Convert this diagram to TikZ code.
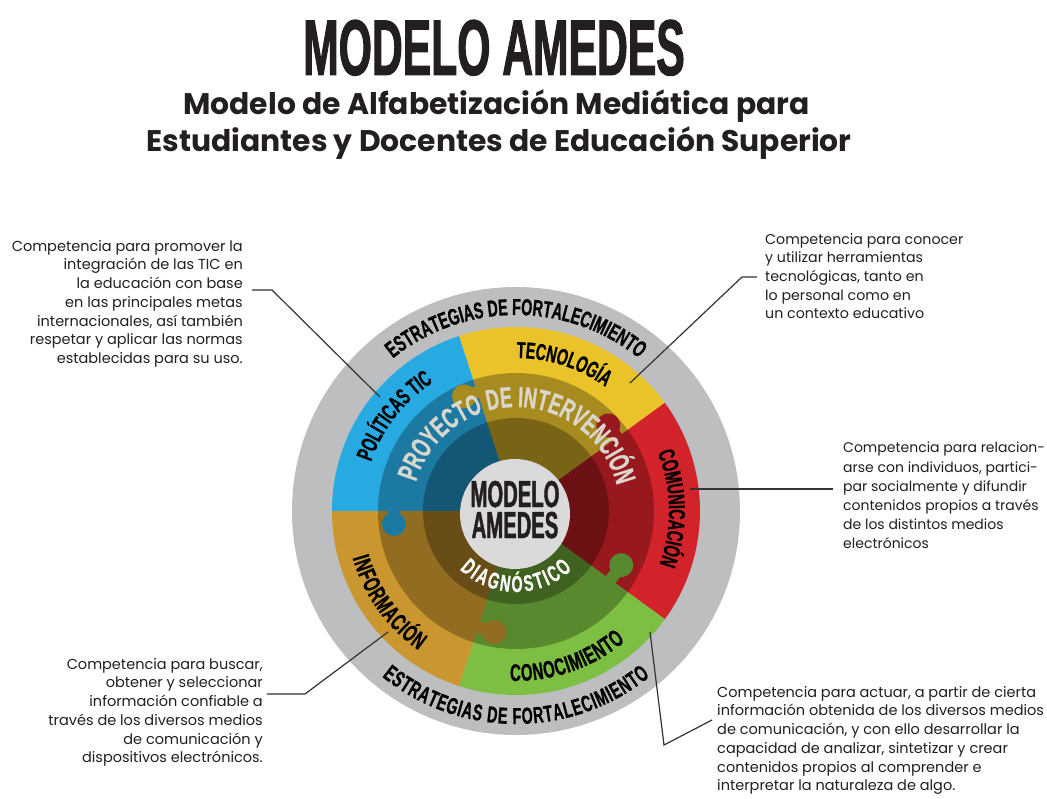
\documentclass[tikz,border=0pt]{standalone}
\usepackage{fontspec}
\setmainfont{Poppins}
\newfontfamily\cond{Liberation Sans}[FakeStretch=0.54, FakeBold=1.2]
\newfontfamily\condw{Liberation Sans}[FakeStretch=0.62, FakeBold=0.8]
\usetikzlibrary{decorations.text}
\definecolor{cBlue}{HTML}{27A9E1}
\definecolor{cYel}{HTML}{EAC22A}
\definecolor{cRed}{HTML}{D2232A}
\definecolor{cGreen}{HTML}{7CBF42}
\definecolor{cOra}{HTML}{C9962F}
\definecolor{cGray}{HTML}{BDBEC0}
\definecolor{cCenter}{HTML}{DADADB}
\definecolor{ink}{HTML}{231F20}
\definecolor{proj}{HTML}{DAD6CC}
\definecolor{lineink}{HTML}{333333}
\newcommand\rf{\condw\bfseries\fontsize{23}{23}\selectfont}
\newcommand\rfb{\condw\bfseries\fontsize{24}{24}\selectfont}
\newcommand\pf{\condw\bfseries\fontsize{29}{29}\selectfont\color{proj}}
\newcommand\df{\condw\bfseries\fontsize{23}{23}\selectfont\color{white}}
\newcommand\pzknob[4]{%
  \begin{scope}[rotate=#1]
    \fill[#4] (#2,#3) circle[radius=12];
    \fill[#4] (#2-6,0) rectangle (#2+6,#3);
  \end{scope}}
\tikzset{
  desc/.style={font=\fontsize{14.5}{18.7}\selectfont, text=ink, inner sep=0pt},
  conn/.style={draw=lineink, line width=1.2pt},
  seg/.style={decorate, decoration={text along path, text align=center, text={#1}}},
  segfit/.style={decorate, decoration={text along path, text align={fit to path}, text={#1}}}
}
\begin{document}
\begin{tikzpicture}[x=1pt,y=1pt]
\useasboundingbox (-516,-287) rectangle (531,511);
\fill[white] (-516,-287) rectangle (531,511);

% titles
\node[anchor=base, font=\cond\bfseries\fontsize{79}{79}\selectfont, text=ink, inner sep=0pt] (title) at (-22,436) {MODELO AMEDES};
\node[anchor=base, font=\bfseries\fontsize{29.8}{29.8}\selectfont, text=ink, inner sep=0pt] (sub1) at (-19.5,396) {Modelo de Alfabetización Mediática para};
\node[anchor=base, font=\bfseries\fontsize{29.8}{29.8}\selectfont, text=ink, inner sep=0pt] (sub2) at (-17,359) {Estudiantes y Docentes de Educación Superior};

% rings
\fill[cGray] (0,0) circle[radius=224];
\fill[cBlue] (0,0) -- (180:184) arc[start angle=180, end angle=108, radius=184] -- cycle;
\fill[cYel] (0,0) -- (108:184) arc[start angle=108, end angle=36, radius=184] -- cycle;
\fill[cRed] (0,0) -- (36:184) arc[start angle=36, end angle=-36, radius=184] -- cycle;
\fill[cGreen] (0,0) -- (-36:184) arc[start angle=-36, end angle=-108, radius=184] -- cycle;
\fill[cOra] (0,0) -- (-108:184) arc[start angle=-108, end angle=-180, radius=184] -- cycle;
\pzknob{180}{122}{13}{cBlue}
\pzknob{108}{125}{14}{cYel}
\pzknob{36}{125}{15}{cRed}
\pzknob{-36}{117}{18}{cGreen}
\pzknob{-108}{122}{17}{cOra}
\fill[black, opacity=0.28] (0,0) circle[radius=138];
\fill[black, opacity=0.28] (0,0) circle[radius=93];
\node[circle, fill=cCenter, minimum size=110pt, inner sep=0pt] (center) at (-1,-3) {};

% ring texts
\path[seg={|\rf|ESTRATEGIAS DE FORTALECIMIENTO}] (150:196) arc[start angle=150, end angle=30, radius=196];
\path[segfit={|\rf|ESTRATEGIAS DE FORTALECIMIENTO}] (231:213) arc[start angle=231, end angle=309, radius=213];
\path[seg={|\rf|POLÍTICAS TIC}] (192:153) arc[start angle=192, end angle=92, radius=153];
\path[seg={|\rf|TECNOLOGÍA}] (122:153) arc[start angle=122, end angle=22, radius=153];
\path[seg={|\rf|COMUNICACIÓN}] (51:153) arc[start angle=51, end angle=-49, radius=153];
\path[segfit={|\rfb|CONOCIMIENTO}] (-92:170) arc[start angle=-92, end angle=-50, radius=170];
\path[segfit={|\rfb|INFORMACIÓN}] (196:170) arc[start angle=196, end angle=235, radius=170];
\path[seg={|\pf|PROYECTO DE INTERVENCIÓN}] (175:104) arc[start angle=175, end angle=3, radius=104];
\path[segfit={|\df|DIAGNÓSTICO}] (226:81) arc[start angle=226, end angle=314, radius=81];

\node[anchor=base, font=\cond\bfseries\fontsize{37.5}{37.5}\selectfont, text=ink, inner sep=0pt] (m1) at (-1,4) {MODELO};
\node[anchor=base, font=\cond\bfseries\fontsize{37.5}{37.5}\selectfont, text=ink, inner sep=0pt] (m2) at (-1,-27) {AMEDES};

% description blocks
\node[desc, align=right, anchor=north east] (b1) at (-273,271) {Competencia para promover la\\integración de las TIC en\\la educación con base\\en las principales metas\\internacionales, así también\\respetar y aplicar las normas\\establecidas para su uso.};
\node[desc, align=left, anchor=north west, font=\fontsize{14.2}{18.7}\selectfont] (b2) at (249,278) {Competencia para conocer\\y utilizar herramientas\\tecnológicas, tanto en\\lo personal como en\\un contexto educativo};
\node[desc, align=left, anchor=north west, font=\fontsize{14}{19.2}\selectfont] (b3) at (327,69) {Competencia para relacion-\\arse con individuos, partici-\\par socialmente y difundir\\contenidos propios a través\\de los distintos medios\\electrónicos};
\node[desc, align=right, anchor=north east] (b4) at (-253,-147) {Competencia para buscar,\\obtener y seleccionar\\información confiable a\\través de los diversos medios\\de comunicación y\\dispositivos electrónicos.};
\node[desc, align=left, anchor=north west] (b5) at (201,-175) {Competencia para actuar, a partir de cierta\\información obtenida de los diversos medios\\de comunicación, y con ello desarrollar la\\capacidad de analizar, sintetizar y crear\\contenidos propios al comprender e\\interpretar la naturaleza de algo.};

% connectors
\coordinate (c1a) at (-264,221); \coordinate (c1b) at (-244,221); \coordinate (c1c) at (-136,114);
\draw[conn] (c1a) -- (c1b) -- (c1c);
\coordinate (c2a) at (114,128); \coordinate (c2b) at (226,234); \coordinate (c2c) at (241,234);
\draw[conn] (c2a) -- (c2b) -- (c2c);
\coordinate (c3a) at (174,22); \coordinate (c3b) at (317,22);
\draw[conn] (c3a) -- (c3b);
\coordinate (c4a) at (-128,-121); \coordinate (c4b) at (-211,-183); \coordinate (c4c) at (-249,-183);
\draw[conn] (c4a) -- (c4b) -- (c4c);
\coordinate (c5a) at (134,-121); \coordinate (c5b) at (148,-234); \coordinate (c5c) at (196,-209);
\draw[conn] (c5a) -- (c5b) -- (c5c);
\end{tikzpicture}
\end{document}
